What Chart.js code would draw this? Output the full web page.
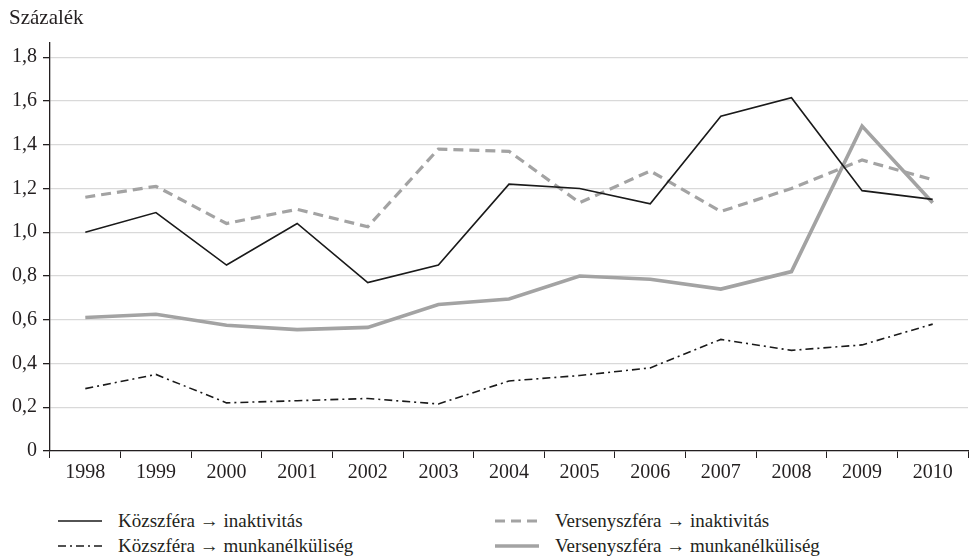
<!DOCTYPE html>
<html>
<head>
<meta charset="utf-8">
<script src="https://cdn.jsdelivr.net/npm/chart.js@4.4.1/dist/chart.umd.min.js"></script>
<style>
  body { margin: 0; background: #fff; font-family: "Liberation Serif", serif; color: #231f20; }
  #wrap { position: relative; width: 970px; height: 557px; }
  #box { position: absolute; left: 0; top: 0; width: 970px; height: 490px; }
  #unit { position: absolute; left: 9px; top: 5px; font-size: 21px; }
  .leg { position: absolute; font-size: 19px; line-height: 22px; display: flex; align-items: center; }
  .leg svg { margin-right: 16px; }
</style>
</head>
<body>
<div id="wrap">
  <div id="box"><canvas id="chart"></canvas></div>
  <div id="unit">Százalék</div>
  <div id="legend"></div>
</div>
<script>
var years = ["1998","1999","2000","2001","2002","2003","2004","2005","2006","2007","2008","2009","2010"];

var kozInaktiv = [1.00, 1.09, 0.85, 1.04, 0.77, 0.85, 1.22, 1.20, 1.13, 1.53, 1.615, 1.19, 1.15];
var versInaktiv = [1.16, 1.21, 1.04, 1.105, 1.025, 1.38, 1.37, 1.135, 1.28, 1.095, 1.20, 1.33, 1.24];
var kozMunka = [0.285, 0.35, 0.22, 0.23, 0.24, 0.215, 0.32, 0.345, 0.38, 0.51, 0.46, 0.485, 0.58];
var versMunka = [0.61, 0.625, 0.575, 0.555, 0.565, 0.67, 0.695, 0.80, 0.785, 0.74, 0.82, 1.485, 1.135];

var yTicks = [0, 0.2, 0.4, 0.6, 0.8, 1.0, 1.2, 1.4, 1.6, 1.8];

var series = [
    { label: "Közszféra → inaktivitás", data: kozInaktiv, color: "#1a1a1a", width: 1.6, dash: [] },
    { label: "Versenyszféra → inaktivitás", data: versInaktiv, color: "#a3a3a3", width: 3.2, dash: [10, 6] },
    { label: "Közszféra → munkanélküliség", data: kozMunka, color: "#1a1a1a", width: 1.6, dash: [8, 4, 2, 4] },
    { label: "Versenyszféra → munkanélküliség", data: versMunka, color: "#a3a3a3", width: 3.6, dash: [] }
];

var datasets = series.map(function(s) {
    return {
        label: s.label,
        data: s.data,
        borderColor: s.color,
        borderWidth: s.width,
        borderDash: s.dash,
        pointRadius: 0,
        tension: 0,
        fill: false
    };
});

new Chart(document.getElementById("chart").getContext("2d"), {
    type: "line",
    data: { labels: years, datasets: datasets },
    options: {
        responsive: true,
        maintainAspectRatio: false,
        animation: false,
        layout: { padding: { top: 43, right: 2, left: 6, bottom: 2 } },
        plugins: { legend: { display: false }, tooltip: { enabled: false } },
        scales: {
            x: {
                offset: true,
                grid: { drawOnChartArea: false, offset: true, tickLength: 7, tickColor: "#231f20" },
                border: { color: "#231f20", width: 1.3 },
                ticks: { color: "#231f20", font: { family: "Liberation Serif", size: 20 }, padding: 3, maxRotation: 0 }
            },
            y: {
                min: 0,
                max: 1.865,
                afterBuildTicks: function(scale) {
                    scale.ticks = yTicks.map(function(v) { return { value: v }; });
                },
                grid: { color: "#d9d9d9", lineWidth: 1.3, tickLength: 7, tickColor: "#231f20" },
                border: { color: "#231f20", width: 1.3 },
                ticks: {
                    color: "#231f20",
                    font: { family: "Liberation Serif", size: 20 },
                    padding: 6,
                    callback: function(v) { return v === 0 ? "0" : v.toFixed(1).replace(".", ","); }
                }
            }
        }
    }
});

// legend in two columns below the chart
var legPos = [
    { left: 58, top: 510 }, { left: 495, top: 510 },
    { left: 58, top: 535 }, { left: 495, top: 535 }
];
var legend = document.getElementById("legend");
series.forEach(function(s, i) {
    var d = document.createElement("div");
    d.className = "leg";
    d.style.left = legPos[i].left + "px";
    d.style.top = legPos[i].top + "px";
    var ns = "http://www.w3.org/2000/svg";
    var svg = document.createElementNS(ns, "svg");
    svg.setAttribute("width", "44");
    svg.setAttribute("height", "10");
    var ln = document.createElementNS(ns, "line");
    ln.setAttribute("x1", "0"); ln.setAttribute("x2", "44");
    ln.setAttribute("y1", "5"); ln.setAttribute("y2", "5");
    ln.setAttribute("stroke", s.color);
    ln.setAttribute("stroke-width", s.width);
    if (s.dash.length) ln.setAttribute("stroke-dasharray", s.dash.join(" "));
    svg.appendChild(ln);
    d.appendChild(svg);
    var t = document.createElement("span");
    t.textContent = s.label;
    d.appendChild(t);
    legend.appendChild(d);
});
</script>
</body>
</html>
